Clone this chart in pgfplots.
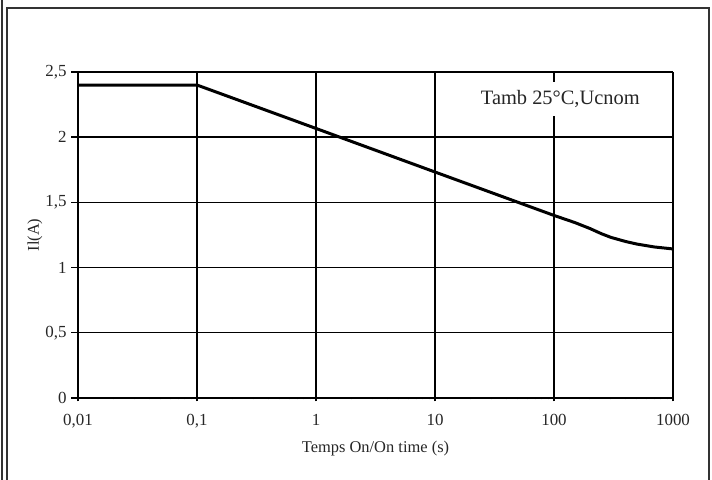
\documentclass[border=0pt]{standalone}
\usepackage{pgfplots}
\pgfplotsset{compat=1.18}
\usepackage{fontspec}
\setmainfont{Liberation Serif}
\newcommand\tickfont{\fontsize{17}{19}\selectfont}
\newcommand\labfont{\fontsize{16.5}{19}\selectfont}
\begin{document}
\begin{tikzpicture}[x=1bp,y=1bp]
\useasboundingbox (-78,-82) rectangle (634,398);
\draw[line width=1.1bp,black!80] (-76,-82) -- (-76,398);
\draw[line width=1.1bp,black!80] (-71,-82) -- (-71,390) -- (631,390) -- (631,-82);
\begin{axis}[
  at={(0,0)}, anchor=south west,
  scale only axis, width=595bp, height=326bp,
  xmode=log, xmin=0.01, xmax=1000, ymin=0, ymax=2.5,
  xtick={0.01,0.1,1,10,100,1000},
  xticklabels={{0,01},{0,1},1,10,100,1000},
  ytick={0,0.5,1,1.5,2,2.5},
  yticklabels={0,{0,5},1,{1,5},2,{2,5}},
  minor xtick={}, 
  axis lines=left,
  axis line style={-, line width=2.4bp},
  grid=major,
  major grid style={line width=1.4bp, black},
  xtick style={line width=2bp, black},
  ytick style={line width=1.4bp, black},
  xtick align=center, ytick align=outside,
  major tick length=7bp,
  xticklabel style={font=\tickfont, text=black!85, yshift=-9bp},
  yticklabel style={font=\tickfont, text=black!85, xshift=-1bp},
  xlabel={Temps On/On time (s)},
  ylabel={Il(A)},
  xlabel style={font=\labfont, text=black!85, yshift=-6bp},
  ylabel style={font=\labfont, text=black!85, yshift=-4bp},
  clip=false,
]
\addplot[black, line width=3bp, line join=round] coordinates {
(0.01,2.4) (0.1,2.4) (1,2.067) (10,1.733) (100,1.40) (150,1.345) (200,1.30) (250,1.260) (300,1.232) (400,1.200) (500,1.180) (700,1.158) (1000,1.143)
};
\node[fill=white, inner sep=0pt, minimum height=34bp, minimum width=170bp, font=\fontsize{20.5}{22}\selectfont, text=black!85] at (axis cs:113,2.29) {Tamb 25°C,Ucnom};
\end{axis}
\end{tikzpicture}
\end{document}
